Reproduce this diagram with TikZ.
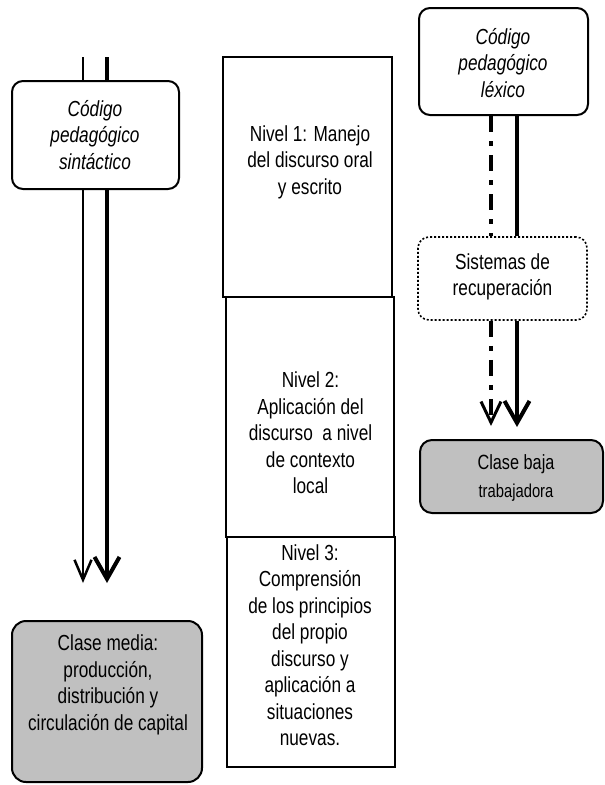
\documentclass[tikz,border=0pt]{standalone}
\usepackage{fontspec}
\setmainfont{Liberation Sans}[FakeStretch=0.79]
\usetikzlibrary{arrows.meta}
\definecolor{boxgray}{RGB}{192,192,192}
\begin{document}
\begin{tikzpicture}[x=1pt,y=-1pt,
  txt/.style={align=center,inner sep=0pt,font=\fontsize{21.8}{26.5}\selectfont},
  itxt/.style={txt,font=\fontsize{21.8}{26.5}\selectfont\itshape},
  frame/.style={draw,line width=2pt,inner sep=0pt},
  codebox/.style={frame,fill=white,rounded corners=11pt},
  levelbox/.style={frame,fill=white},
  classbox/.style={frame,fill=boxgray,rounded corners=14pt},
  thinline/.style={line width=2.5pt},
  thickline/.style={line width=4.5pt},
  dashdot/.style={line width=4pt,dash pattern=on 16pt off 9pt on 5pt off 9pt},
  thinhead/.style={-{Straight Barb[length=20pt,width=17pt,line width=2.5pt]}},
  thickhead/.style={-{Straight Barb[length=22pt,width=25pt,line width=4pt]}},
  dashhead/.style={-{Straight Barb[length=21pt,width=20pt,line width=3pt]}}
]
\useasboundingbox (0,0) rectangle (605,785);

% central column of levels
\node[levelbox,minimum width=169pt,minimum height=240pt] (n1) at (307.5,177) {};
\node[levelbox,minimum width=168pt,minimum height=240pt] (n2) at (310,417) {};
\node[levelbox,minimum width=168pt,minimum height=230pt] (n3) at (311,652) {};
\node[txt] (n1t) at (310,162) {Nivel 1: Manejo\\del discurso oral\\y escrito};
\node[txt] (n2t) at (310.5,433) {Nivel 2:\\Aplicación del\\discurso\ \ a nivel\\de contexto\\local};
\node[txt] (n3t) at (310,645) {Nivel 3:\\Comprensión\\de los principios\\del propio\\discurso y\\aplicación a\\situaciones\\nuevas.};

% left column: syntactic code
\coordinate (lthin) at (83,57);
\coordinate (lthick) at (107,57);
\coordinate (lthinend) at (83,583);
\coordinate (lthickend) at (107,583);
\node[codebox,minimum width=167pt,minimum height=108pt] (synt) at (95.5,135) {};
\node[itxt] (syntt) at (95,135) {Código\\pedagógico\\sintáctico};
\draw[thinline] (lthin) -- (lthin |- synt.north);
\draw[thickline] (lthick) -- (lthick |- synt.north);
\draw[thinline,thinhead] (lthin |- synt.south) -- (lthinend);
\draw[thickline,thickhead] (lthick |- synt.south) -- (lthickend);

\node[classbox,minimum width=190pt,minimum height=161pt] (media) at (107,701.5) {};
\node[txt] (mediat) at (108,685) {Clase media:\\producción,\\distribución y\\circulación de capital};

% right column: lexical code
\node[codebox,minimum width=169pt,minimum height=107pt] (lex) at (503.5,61.5) {};
\node[itxt] (lext) at (503,63) {Código\\pedagógico\\léxico};
\node[frame,dotted,line width=1.6pt,fill=white,rounded corners=11pt,minimum width=169pt,minimum height=83pt] (sist) at (502.5,278.5) {};
\node[txt] (sistt) at (502.5,277) {Sistemas de\\recuperación};
\coordinate (rdd) at (491,0);
\coordinate (rth) at (517,0);
\coordinate (rddend) at (491,426);
\coordinate (rthend) at (517,427);
\draw[dashdot] (rdd |- lex.south) -- (rdd |- sist.north);
\draw[thickline] (rth |- lex.south) -- (rth |- sist.north);
\draw[dashdot,dashhead] (rdd |- sist.south) -- (rddend);
\draw[thickline,thickhead] (rth |- sist.south) -- (rthend);

\node[classbox,rounded corners=12pt,minimum width=183pt,minimum height=73pt] (baja) at (511.5,476.5) {};
\node[txt,font=\fontsize{20.6}{20}\selectfont] (bajat) at (516,464) {Clase baja};
\node[txt,font=\fontsize{18.7}{18}\selectfont] (bajat2) at (516,493) {trabajadora};
\end{tikzpicture}
\end{document}
